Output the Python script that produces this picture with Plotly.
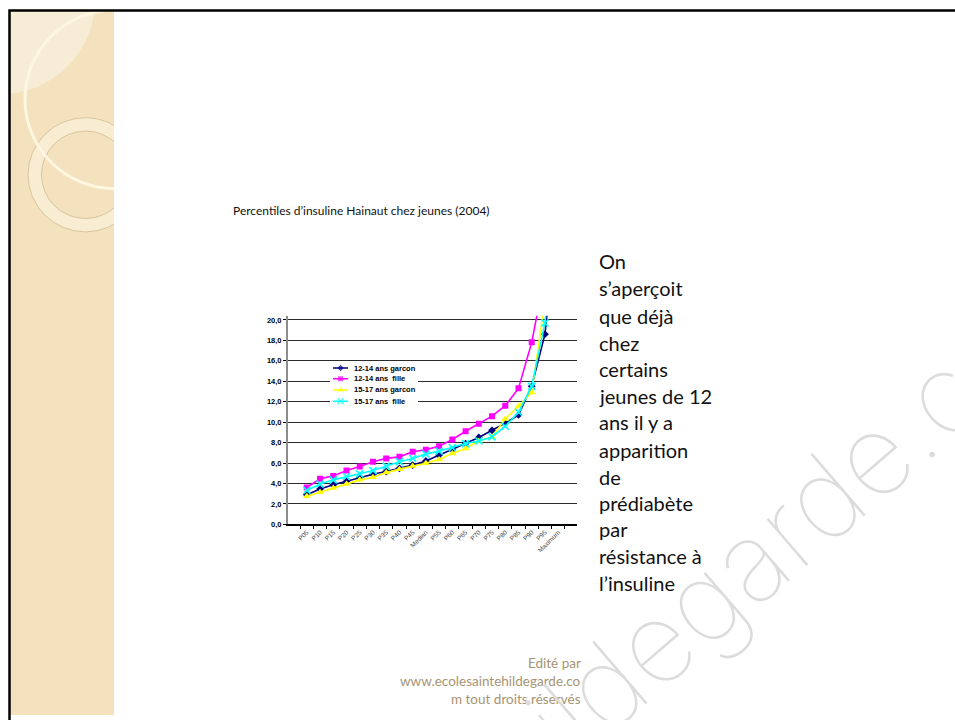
import plotly.graph_objects as go

W, H = 955, 720

# ---- data -------------------------------------------------------------
percentiles = ["P05", "P10", "P15", "P20", "P25", "P30", "P35", "P40", "P45",
               "Median", "P55", "P60", "P65", "P70", "P75", "P80", "P85",
               "P90", "P95", "Maximum"]

garcon_12_14 = [2.9, 3.45, 3.87, 4.2, 4.58, 4.9, 5.16, 5.48, 5.8, 6.2,
                6.77, 7.3, 7.9, 8.5, 9.2, 9.9, 10.7, 13.5, 18.6, 31.0]
fille_12_14 = [3.6, 4.45, 4.74, 5.26, 5.65, 6.13, 6.45, 6.6, 7.1, 7.3,
               7.65, 8.3, 9.1, 9.84, 10.58, 11.6, 13.3, 17.8, 24.5, 45.0]
garcon_15_17 = [2.74, 3.13, 3.55, 3.94, 4.35, 4.6, 5.06, 5.4, 5.7, 5.97,
                6.35, 6.94, 7.42, 8.16, 8.55, 10.3, 11.55, 12.9, 21.8, 36.0]
fille_15_17 = [3.32, 3.94, 4.35, 4.68, 4.94, 5.26, 5.7, 6.13, 6.45, 6.87,
               7.16, 7.5, 7.9, 8.16, 8.55, 9.6, 10.97, 13.5, 19.7, 33.0]

series_names = ["12-14 ans garcon", "12-14 ans\u00a0 fille",
                "15-17 ans garcon", "15-17 ans\u00a0 fille"]
series_values = [garcon_12_14, fille_12_14, garcon_15_17, fille_15_17]

title_text = "Percentiles d\u2019insuline Hainaut chez jeunes (2004)"
body_lines = ["On", "s\u2019aper\u00e7oit", "que d\u00e9j\u00e0", "chez",
              "certains", "jeunes de 12", "ans il y a", "apparition", "de",
              "pr\u00e9diab\u00e8te", "par", "r\u00e9sistance \u00e0",
              "l\u2019insuline"]
footer_lines = ["Edit\u00e9 par", "www.ecolesaintehildegarde.co",
                "m tout droits r\u00e9serv\u00e9s"]

# ---- styles -----------------------------------------------------------
colors = ["#000080", "#FF00FF", "#FFFF00", "#00FFFF"]
symbols = ["diamond", "square", "triangle-up", "x-thin"]
msizes = [6, 6, 7, 7]


def px(x):
    return x / W


def py(y):
    return 1 - y / H


def marker_style(i, size):
    if symbols[i] == "x-thin":
        return dict(symbol=symbols[i], size=size, color=colors[i],
                    line=dict(color=colors[i], width=1.6))
    return dict(symbol=symbols[i], size=size, color=colors[i],
                line=dict(width=0))


fig = go.Figure()

for i, (name, vals) in enumerate(zip(series_names, series_values)):
    fig.add_trace(go.Scatter(
        x=percentiles, y=vals, name=name, mode="lines+markers",
        line=dict(color=colors[i], width=1.6),
        marker=marker_style(i, msizes[i]),
        showlegend=False, cliponaxis=True, hoverinfo="skip",
    ))

# compact legend drawn on its own small pixel-scaled axes
leg_rows = [6.7, 17.3, 28.7, 40.0]
for i, name in enumerate(series_names):
    fig.add_trace(go.Scatter(
        x=[3, 10.5, 18], y=[leg_rows[i]] * 3, mode="lines+markers",
        line=dict(color=colors[i], width=1.5),
        marker=dict(marker_style(i, msizes[i] - 1), size=[0, msizes[i] - 1, 0]),
        xaxis="x2", yaxis="y2", showlegend=False, hoverinfo="skip",
    ))

annotations = []
for i, name in enumerate(series_names):
    annotations.append(dict(
        xref="x2", yref="y2", x=22, y=leg_rows[i], text=name,
        showarrow=False, xanchor="left", yanchor="middle",
        font=dict(family="Arial", size=7.5, color="#000", weight="bold"),
    ))

# title above the chart
annotations.append(dict(
    xref="paper", yref="paper", x=px(231), y=py(212), text=title_text,
    showarrow=False, xanchor="left", yanchor="middle",
    font=dict(family="Lato", size=12, color="#111"),
))

# commentary column
body_y = [263, 290, 318, 345, 372, 399, 425, 453, 480, 507, 533, 560, 587]
for line, yy in zip(body_lines, body_y):
    annotations.append(dict(
        xref="paper", yref="paper", x=px(597), y=py(yy), text=line,
        showarrow=False, xanchor="left", yanchor="middle",
        font=dict(family="Lato", size=20, color="#111"),
    ))

# credit lines
for line, yy in zip(footer_lines, [668, 686, 704]):
    annotations.append(dict(
        xref="paper", yref="paper", x=px(583), y=py(yy), text=line,
        showarrow=False, xanchor="right", yanchor="middle",
        font=dict(family="Lato", size=13.5, color="#A69473"),
    ))

# faint diagonal site watermark
annotations.append(dict(
    xref="paper", yref="paper", x=px(790), y=py(530), text="hildegarde.com",
    showarrow=False, xanchor="center", yanchor="middle", textangle=-40.7,
    font=dict(family="Inter", size=112, color="#dcdcdc", weight=100),
))

panel = "#F3E2BD"
shapes = [
    # decorative side panel
    dict(type="rect", xref="paper", yref="paper", layer="below",
         x0=px(9), x1=px(114), y0=py(10), y1=py(720),
         fillcolor=panel, line=dict(width=0)),
    dict(type="circle", xref="paper", yref="paper", layer="below",
         x0=px(-95), x1=px(95), y0=py(-95), y1=py(95),
         fillcolor="#F7ECD5", line=dict(width=0)),
    dict(type="circle", xref="paper", yref="paper", layer="below",
         x0=px(85.5 - 57.5), x1=px(85.5 + 57.5),
         y0=py(176 - 57.5), y1=py(176 + 57.5),
         fillcolor="#F8EDD2", line=dict(color="#D8C59C", width=1)),
    dict(type="circle", xref="paper", yref="paper", layer="below",
         x0=px(85.5 - 44), x1=px(85.5 + 44),
         y0=py(176 - 44), y1=py(176 + 44),
         fillcolor=panel, line=dict(color="#D8C59C", width=1)),
    dict(type="circle", xref="paper", yref="paper", layer="below",
         x0=px(115 - 90), x1=px(115 + 90), y0=py(100 - 90), y1=py(100 + 90),
         fillcolor="rgba(0,0,0,0)", line=dict(color="#FFF7E2", width=3)),
    # keep the panel ornaments inside the panel
    dict(type="rect", xref="paper", yref="paper", layer="below",
         x0=px(114), x1=px(320), y0=py(0), y1=py(320),
         fillcolor="white", line=dict(width=0)),
    dict(type="rect", xref="paper", yref="paper", layer="below",
         x0=px(0), x1=px(W), y0=py(0), y1=py(9.5),
         fillcolor="white", line=dict(width=0)),
    dict(type="rect", xref="paper", yref="paper", layer="below",
         x0=px(0), x1=px(8.5), y0=py(0), y1=py(H),
         fillcolor="white", line=dict(width=0)),
    # slide frame
    dict(type="rect", xref="paper", yref="paper", layer="below",
         x0=px(9.5), x1=px(975), y0=py(10.5), y1=py(740),
         fillcolor="rgba(0,0,0,0)", line=dict(color="#000", width=2.5)),
    # legend box background
    dict(type="rect", xref="x2", yref="y2", layer="between",
         x0=0, x1=88, y0=0, y1=46, fillcolor="white", line=dict(width=0)),
]

fig.update_layout(
    width=W, height=H,
    margin=dict(l=0, r=0, t=0, b=0),
    paper_bgcolor="white", plot_bgcolor="white",
    separators=", ",
    showlegend=False,
    shapes=shapes,
    annotations=annotations,
    xaxis=dict(
        domain=[px(288), px(577)], anchor="y", type="category",
        showgrid=False, zeroline=False,
        showline=True, linecolor="#000", linewidth=1.5,
        ticks="outside", tickson="boundaries", ticklen=3, tickcolor="#000",
        tickangle=-45, tickfont=dict(family="Arial", size=6.5, color="#444"),
    ),
    yaxis=dict(
        domain=[py(528), py(318)], anchor="x", range=[0, 20.4], dtick=2,
        tickformat=".1f", showgrid=True, gridcolor="#2a2a2a", gridwidth=1,
        zeroline=False, showline=True, linecolor="#8c8c8c", linewidth=2,
        ticks="outside", ticklen=3, tickcolor="#000",
        tickfont=dict(family="Arial", size=7.5, color="#000", weight="bold"),
    ),
    xaxis2=dict(domain=[px(330), px(418)], anchor="y2", range=[0, 88],
                visible=False, fixedrange=True),
    yaxis2=dict(domain=[py(410), py(364)], anchor="x2", range=[46, 0],
                visible=False, fixedrange=True),
)

fig.write_html("out.html")
